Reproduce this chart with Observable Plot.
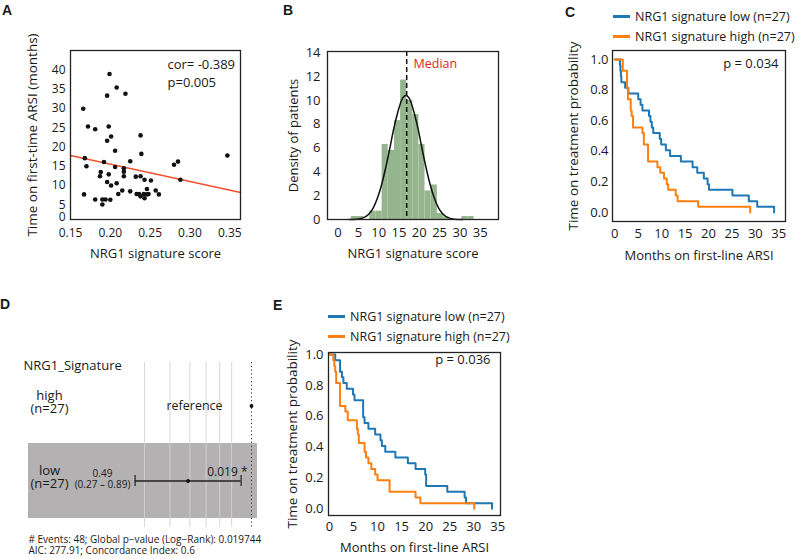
<!DOCTYPE html>
<html><head><meta charset="utf-8">
<script src="https://cdn.jsdelivr.net/npm/d3@7"></script>
<script src="https://cdn.jsdelivr.net/npm/@observablehq/plot@0.6"></script>
<style>
html,body{margin:0;padding:0;background:#fff;}
#fig{position:relative;width:800px;height:559px;overflow:hidden;font-family:"Open Sans",sans-serif;color:#1a1a1a;}
.letter{position:absolute;font-family:"Liberation Sans",Arial,sans-serif;font-weight:bold;font-size:14px;line-height:14px;}
.legend{position:absolute;font-size:12.5px;}
.legend .row{display:flex;align-items:center;height:20px;white-space:nowrap;}
.legend .sw{display:inline-block;width:17px;height:3px;margin-right:5px;}
</style></head><body><div id="fig"></div>
<script>
// ---------- Panel A: scatter ----------
const scoreA = [0.166,0.199,0.208,0.196,0.219,0.172,0.181,0.198,0.201,0.196,0.206,0.238,0.239,0.168,0.170,0.192,0.188,0.187,0.198,0.206,0.217,0.217,0.217,0.225,0.232,0.238,0.243,0.251,0.280,0.285,0.288,0.347,0.196,0.201,0.208,0.167,0.181,0.190,0.194,0.200,0.190,0.210,0.215,0.225,0.233,0.236,0.238,0.242,0.243,0.246,0.246,0.248,0.257,0.261];
const monthsA = [29.9,38.9,35.4,33.3,33.8,25.3,24.6,25.3,22.7,21.6,19.0,23.0,18.2,17.1,15.0,16.1,13.5,12.4,12.9,14.8,13.6,14.5,12.4,16.3,12.3,12.4,11.5,11.3,15.4,16.2,11.5,17.8,10.9,10.0,10.6,7.7,6.4,6.4,6.4,6.3,5.1,7.8,8.7,8.5,7.8,7.8,7.2,7.8,6.7,7.7,9.1,7.8,8.7,7.7];
const fitX = [0.15, 0.3635];
const fitY = [17.8, 8.2];
const ticksAx = [0.15, 0.20, 0.25, 0.30, 0.35];
const ticksAy = [5, 10, 15, 20, 25, 30, 35, 40];
const statA = "cor= -0.389\np=0.005";

// ---------- Panel B: histogram ----------
const binEdges = [3.3,4.8,6.3,7.8,9.3,10.85,12.35,13.9,15.4,16.9,18.4,19.9,21.4,22.9,24.45,25.95,27.45,28.95,30.5,32.0,33.5];
const densityB = [0.25,0.25,0,0.7,0.7,6.3,5.8,8.3,11.7,10.0,8.8,6.3,2.4,2.9,0.5,0.2,0,0,0.25,0.25];
const curveX = [2.7,4.7,6.7,7.7,8.7,9.7,10.7,11.7,12.7,13.7,14.7,15.7,16.7,17.7,18.7,19.7,20.7,21.7,22.7,23.7,24.7,25.7,26.7,28.7,30.7];
const curveY = [0.0,0.03,0.22,0.5,1.0,1.8,2.9,4.3,5.9,7.6,9.0,10.05,10.4,10.05,9.0,7.6,5.9,4.3,2.9,1.8,1.0,0.5,0.22,0.03,0.0];
const medianB = 16.9;
const ticksBx = [0,5,10,15,20,25,30,35];
const ticksBy = [0,2,4,6,8,10,12,14];

// ---------- Panel C: Kaplan-Meier ----------
const timeLowC = [0,1.1,1.2,1.3,1.4,2.2,2.9,5.0,5.5,5.9,7.3,7.6,7.9,8.2,9.6,9.9,10.9,11.8,14.1,16.6,17.6,19.0,19.8,20.1,25.1,28.6,30.4,34.0];
const survLowC = [1,.963,.926,.889,.852,.815,.778,.741,.704,.667,.630,.593,.556,.519,.481,.444,.407,.370,.333,.296,.259,.222,.185,.148,.111,.074,.037,0];
const timeHighC = [0,1.7,2.6,2.8,3.4,3.6,3.9,5.9,6.2,7.1,9.1,9.7,10.5,11.1,11.4,13.0,13.4,17.8,28.9];
const survHighC = [1,.926,.815,.741,.667,.630,.556,.519,.444,.333,.296,.259,.222,.185,.148,.111,.074,.037,0];

// ---------- Panel E: Kaplan-Meier ----------
const timeLowE = [0,1.2,2.2,2.6,2.9,3.6,4.9,5.2,7.0,7.3,8.1,9.5,10.6,10.9,11.6,13.7,16.3,17.9,19.9,20.1,24.5,28.1,28.4,33.8];
const survLowE = [1,.963,.889,.852,.815,.778,.741,.704,.593,.556,.519,.481,.444,.407,.370,.333,.296,.259,.222,.148,.111,.074,.037,0];
const timeHighE = [0,0.8,1.0,1.2,1.4,2.2,3.3,3.8,5.7,5.9,6.1,7.3,7.6,8.1,8.7,9.5,10.0,12.5,17.9,18.9,30.1];
const survHighE = [1,.963,.926,.889,.815,.667,.630,.574,.519,.482,.426,.370,.333,.296,.259,.222,.185,.111,.074,.037,0];

const kmTicksX = [0,5,10,15,20,25,30,35];
const kmTicksY = [0,0.2,0.4,0.6,0.8,1.0];
const seriesLabels = ["NRG1 signature low (n=27)", "NRG1 signature high (n=27)"];
const seriesColors = ["#1f77b4", "#ff7f0e"];
const pC = "p = 0.034";
const pE = "p = 0.036";

// ---------- Panel D: forest plot ----------
const forestVar = "NRG1_Signature";
const forestLevels = ["high", "low"];
const forestN = [27, 27];
const forestHR = [1, 0.49];
const forestLo = [null, 0.27];
const forestHi = [null, 0.89];
const forestP = [null, "0.019 *"];
const forestTicks = [0.3, 0.4, 0.5, 0.6, 0.7, 0.8];
const forestFooter = ["# Events: 48; Global p\u2212value (Log\u2212Rank): 0.019744", "AIC: 277.91; Concordance Index: 0.6"];

// ---------- helpers ----------
const fig = document.getElementById("fig");
const baseStyle = {fontFamily: '"Open Sans", sans-serif', fontSize: "12px", color: "#1a1a1a", background: "transparent", overflow: "visible"};
function place(el, left, top) {
  el.style.position = "absolute";
  el.style.left = left + "px";
  el.style.top = top + "px";
  fig.appendChild(el);
}
function letter(t, left, top) {
  const d = document.createElement("div");
  d.className = "letter"; d.textContent = t;
  d.style.left = left + "px"; d.style.top = top + "px";
  fig.appendChild(d);
}
function legend(left, top) {
  const d = document.createElement("div");
  d.className = "legend";
  d.style.left = left + "px"; d.style.top = top + "px";
  seriesLabels.forEach((lab, i) => {
    const r = document.createElement("div"); r.className = "row";
    const s = document.createElement("span"); s.className = "sw"; s.style.background = seriesColors[i];
    const t = document.createElement("span"); t.textContent = lab;
    r.appendChild(s); r.appendChild(t); d.appendChild(r);
  });
  fig.appendChild(d);
}
const frameMark = () => Plot.frame({stroke: "#222", strokeWidth: 1.3});
const yTitle = (label, dx, size) => Plot.text([label], {text: d => d, frameAnchor: "left", dx, rotate: -90, textAnchor: "middle", lineAnchor: "middle", fontSize: size});
const xTitle = (label, dy, size) => Plot.text([label], {text: d => d, frameAnchor: "bottom", dy, textAnchor: "middle", lineAnchor: "middle", fontSize: size});

// ---------- A ----------
const scatter = scoreA.map((x, i) => ({x, y: monthsA[i]}));
const fit = fitX.map((x, i) => ({x, y: fitY[i]}));
const plotA = Plot.plot({
  width: 250, height: 270, marginLeft: 70, marginRight: 10, marginTop: 50, marginBottom: 51,
  style: baseStyle,
  x: {domain: [0.15, 0.3635]},
  y: {domain: [1.2, 45]},
  marks: [
    Plot.axisX(ticksAx, {tickSize: 0, tickPadding: 9, fontSize: 12, tickFormat: d3.format(".2f"), label: null}),
    Plot.axisY(ticksAy, {tickSize: 0, tickPadding: 5, fontSize: 12, label: null}),
    Plot.text(["0"], {text: d => d, frameAnchor: "bottom-left", dx: -5, dy: -2, textAnchor: "end", lineAnchor: "middle", fontSize: 12}),
    Plot.line(fit, {x: "x", y: "y", stroke: "#f2512f", strokeWidth: 1.5}),
    Plot.dot(scatter, {x: "x", y: "y", r: 2.3, fill: "#111", stroke: "none"}),
    frameMark(),
    Plot.text([statA], {text: d => d, frameAnchor: "top-left", dx: 97, dy: 22, textAnchor: "start", lineAnchor: "middle", fontSize: 13, lineHeight: 1.4}),
    xTitle("NRG1 signature score", 34, 13),
    yTitle("Time on first-time ARSI (months)", -38, 13.5)
  ]
});
place(plotA, 0, 0);

// ---------- B ----------
const bins = densityB.map((d, i) => ({x1: binEdges[i], x2: binEdges[i + 1], d})).filter(b => b.d > 0);
const curve = curveX.map((x, i) => ({x, y: curveY[i]}));
const plotB = Plot.plot({
  width: 240, height: 270, marginLeft: 57, marginRight: 12, marginTop: 51, marginBottom: 51,
  style: baseStyle,
  x: {domain: [-2.6, 39.5]},
  y: {domain: [0, 14.1]},
  marks: [
    Plot.axisX(ticksBx, {tickSize: 0, tickPadding: 8, fontSize: 13, label: null}),
    Plot.axisY(ticksBy, {tickSize: 0, tickPadding: 7, fontSize: 13, label: null}),
    Plot.rect(bins, {x1: "x1", x2: "x2", y1: () => 0, y2: "d", fill: "#95b58e"}),
    Plot.line(curve, {x: "x", y: "y", curve: "monotone-x", stroke: "#111", strokeWidth: 1.5}),
    Plot.ruleX([medianB], {stroke: "#111", strokeWidth: 1.5, strokeDasharray: "5,3"}),
    frameMark(),
    Plot.text(["Median"], {text: d => d, frameAnchor: "top-left", dx: 86, dy: 12, textAnchor: "start", lineAnchor: "middle", fill: "#e8202a", fontSize: 12.5}),
    xTitle("NRG1 signature score", 34, 13),
    yTitle("Density of patients", -34, 13)
  ]
});
place(plotB, 270, 0);

// ---------- KM builder ----------
function km(tl, sl, th, sh, opts) {
  const low = tl.map((t, i) => ({t, s: sl[i]}));
  const high = th.map((t, i) => ({t, s: sh[i]}));
  return Plot.plot({
    width: opts.width, height: opts.height,
    marginLeft: opts.ml, marginRight: opts.mr, marginTop: opts.mt, marginBottom: opts.mb,
    style: baseStyle,
    x: {domain: opts.xd},
    y: {domain: opts.yd},
    marks: [
      Plot.axisX(kmTicksX, {tickSize: 0, tickPadding: opts.xpad, fontSize: 13, label: null}),
      Plot.axisY(kmTicksY, {tickSize: 0, tickPadding: opts.ypad, fontSize: 13, tickFormat: d3.format(".1f"), label: null}),
      Plot.line(low, {x: "t", y: "s", curve: "step-after", stroke: seriesColors[0], strokeWidth: 2}),
      Plot.line(high, {x: "t", y: "s", curve: "step-after", stroke: seriesColors[1], strokeWidth: 2}),
      frameMark(),
      Plot.text([opts.p], {text: d => d, frameAnchor: "top-right", dx: opts.pdx, dy: opts.pdy, textAnchor: "end", lineAnchor: "middle", fontSize: 13}),
      xTitle("Months on first-line ARSI", opts.xlab, 13),
      yTitle("Time on treatment probability", opts.ylab, 13.5)
    ]
  });
}
const plotC = km(timeLowC, survLowC, timeHighC, survHighC, {
  width: 260, height: 270, ml: 72, mr: 15, mt: 50, mb: 49,
  xd: [-0.49, 36.43], yd: [-0.059, 1.059], xpad: 7, ypad: 4, p: pC, pdx: -7, pdy: 13, xlab: 34, ylab: -39
});
place(plotC, 540, 0);
legend(613, 6.7);

const plotE = km(timeLowE, survLowE, timeHighE, survHighE, {
  width: 260, height: 279, ml: 68, mr: 20, mt: 72, mb: 44,
  xd: [-0.2, 35.56], yd: [-0.043, 1.013], xpad: 6, ypad: 5, p: pE, pdx: -10, pdy: 7, xlab: 32, ylab: -36
});
place(plotE, 260, 280);
legend(328, 306);

// ---------- D ----------
const rows = forestLevels.map((level, i) => ({level, n: forestN[i], hr: forestHR[i], lo: forestLo[i], hi: forestHi[i], p: forestP[i]}));
const refRows = rows.filter(d => d.lo == null);
const estRows = rows.filter(d => d.lo != null);
const plotD = Plot.plot({
  width: 270, height: 279, marginLeft: 28, marginRight: 13, marginTop: 88, marginBottom: 41,
  style: baseStyle,
  x: {type: "log", domain: [0.0814, 1.0698]},
  y: {type: "band", domain: forestLevels, padding: 0, axis: null},
  marks: [
    Plot.cell(rows.filter((d, i) => i % 2 === 1), {y: "level", fill: "#b3b1b1"}),
    Plot.ruleX(forestTicks, {stroke: "#d4d4d4", strokeWidth: 0.9, insetTop: -6, insetBottom: -9}),
    Plot.ruleX(refRows, {x: "hr", stroke: "#333", strokeWidth: 1, strokeDasharray: "1.2,2.6", insetTop: -6, insetBottom: -9}),
    Plot.axisX(forestTicks, {tickSize: 0, tickPadding: 9, fontSize: 9, fill: "#555", tickFormat: d => String(d), label: null}),
    Plot.ruleY(estRows, {y: "level", x1: "lo", x2: "hi", stroke: "#222", strokeWidth: 1.4}),
    Plot.tickX(estRows, {x: "lo", y: "level", stroke: "#222", strokeWidth: 1.2, insetTop: 32, insetBottom: 32}),
    Plot.tickX(estRows, {x: "hi", y: "level", stroke: "#222", strokeWidth: 1.2, insetTop: 32, insetBottom: 32}),
    Plot.dot(rows, {x: "hr", y: "level", r: 1.9, fill: "#111", stroke: "none"}),
    Plot.text([forestVar], {text: d => d, frameAnchor: "top-left", dx: -5, dy: -3, textAnchor: "start", lineAnchor: "middle", fontSize: 13}),
    Plot.text(rows, {y: "level", text: d => `${d.level}\n(n=${d.n})`, frameAnchor: "left", dx: 21, dy: -4, textAnchor: "middle", lineAnchor: "middle", lineHeight: 1.05, fontSize: 13}),
    Plot.text(refRows, {y: "level", text: () => "reference", frameAnchor: "left", dx: 166, textAnchor: "middle", lineAnchor: "middle", fontSize: 12.5}),
    Plot.text(estRows, {y: "level", text: d => `${d.hr}\n(${d.lo} \u2013 ${d.hi})`, frameAnchor: "left", dx: 74, dy: -2, textAnchor: "middle", lineAnchor: "middle", lineHeight: 1.08, fontSize: 10}),
    Plot.text(estRows, {y: "level", text: "p", frameAnchor: "right", dx: -10, dy: -9, textAnchor: "end", lineAnchor: "middle", fontSize: 12}),
    Plot.text([forestFooter.join("\n")], {text: d => d, frameAnchor: "bottom-left", dy: 26.5, textAnchor: "start", lineAnchor: "middle", lineHeight: 1.05, fontSize: 10})
  ]
});
place(plotD, 0, 280);

// ---------- panel letters ----------
letter("A", 2, 3);
letter("B", 283, 3);
letter("C", 565, 5);
letter("D", 0, 296.5);
letter("E", 273, 297.5);
</script></body></html>
